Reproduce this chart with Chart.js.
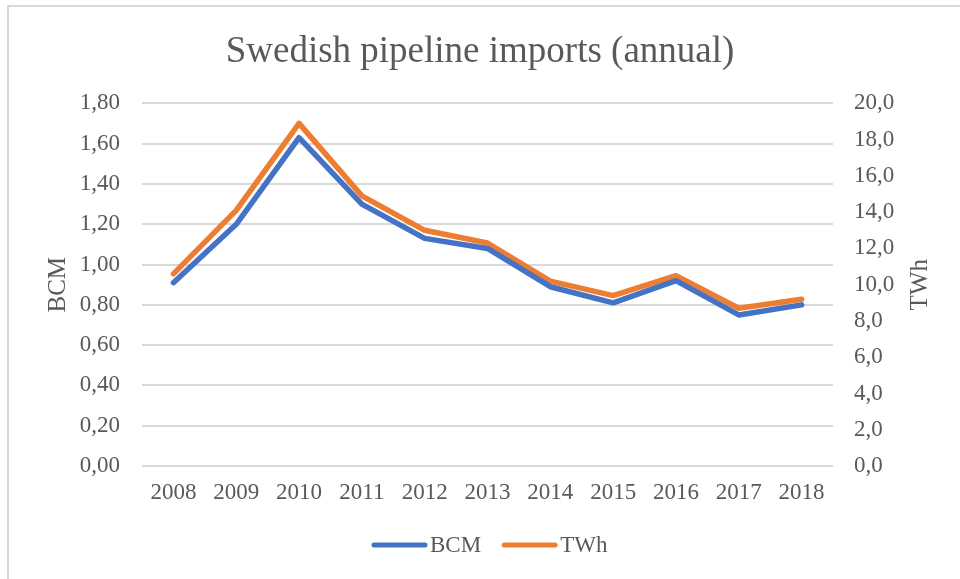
<!DOCTYPE html>
<html>
<head>
<meta charset="utf-8">
<script src="https://cdn.jsdelivr.net/npm/chart.js@4/dist/chart.umd.min.js"></script>
<style>
  html, body { margin: 0; padding: 0; background: #fff; }
  #wrap { width: 960px; height: 579px; position: relative; }
</style>
</head>
<body>
<div id="wrap"><canvas id="imports"></canvas></div>
<script>
// data
const years = ['2008', '2009', '2010', '2011', '2012', '2013', '2014', '2015', '2016', '2017', '2018'];
const bcm = [0.91, 1.20, 1.63, 1.30, 1.13, 1.08, 0.89, 0.81, 0.92, 0.75, 0.80];
const twh = [10.6, 14.1, 18.9, 14.9, 13.0, 12.3, 10.2, 9.4, 10.5, 8.7, 9.2];
const bcmTicks = [0, 0.2, 0.4, 0.6, 0.8, 1.0, 1.2, 1.4, 1.6, 1.8];
const twhTicks = [0, 2, 4, 6, 8, 10, 12, 14, 16, 18, 20];

const grey = '#595959';
const serif = "'Liberation Serif', 'Times New Roman', serif";

// frame, rotated axis titles (both read bottom to top) and the legend
const decor = {
  id: 'decor',
  beforeDraw(chart) {
    const c = chart.ctx;
    c.save();
    c.fillStyle = '#d9d9d9';
    c.fillRect(7, 5, 953, 2);
    c.fillRect(7, 5, 2, 574);
    c.restore();
  },
  afterDraw(chart) {
    const c = chart.ctx;
    const mid = (chart.chartArea.top + chart.chartArea.bottom) / 2;
    c.save();
    c.fillStyle = grey;
    c.font = '25px ' + serif;
    c.textAlign = 'center';
    c.textBaseline = 'middle';
    [[58, 'BCM'], [920, 'TWh']].forEach(([x, t]) => {
      c.save();
      c.translate(x, mid);
      c.rotate(-Math.PI / 2);
      c.fillText(t, 0, 0);
      c.restore();
    });

    // legend: line sample then label
    c.font = '23px ' + serif;
    c.textAlign = 'left';
    let x = 372;
    const y = 545;
    chart.data.datasets.forEach(ds => {
      c.strokeStyle = ds.borderColor;
      c.lineWidth = 5;
      c.lineCap = 'round';
      c.beginPath();
      c.moveTo(x + 2, y);
      c.lineTo(x + 53, y);
      c.stroke();
      c.fillStyle = grey;
      c.fillText(ds.label, x + 58, y + 1);
      x += 58 + c.measureText(ds.label).width + 21;
    });
    c.restore();
  }
};

new Chart(document.getElementById('imports'), {
  type: 'line',
  data: {
    labels: years,
    datasets: [{
      label: 'BCM',
      data: bcm,
      yAxisID: 'y',
      borderColor: '#4472C4',
      backgroundColor: '#4472C4',
      borderWidth: 5.5,
      borderCapStyle: 'round',
      borderJoinStyle: 'round',
      pointRadius: 0,
      tension: 0
    }, {
      label: 'TWh',
      data: twh,
      yAxisID: 'y1',
      borderColor: '#ED7D31',
      backgroundColor: '#ED7D31',
      borderWidth: 5.5,
      borderCapStyle: 'round',
      borderJoinStyle: 'round',
      pointRadius: 0,
      tension: 0
    }]
  },
  options: {
    responsive: true,
    maintainAspectRatio: false,
    animation: false,
    layout: { padding: { left: 0, right: 0, top: 0, bottom: 66 } },
    plugins: {
      title: {
        display: true,
        text: 'Swedish pipeline imports (annual)',
        color: grey,
        font: { family: serif, size: 37, weight: 'normal' },
        padding: { top: 30, bottom: 29 }
      },
      legend: { display: false },
      tooltip: { enabled: false }
    },
    scales: {
      x: {
        offset: true,
        grid: { display: false, drawTicks: false },
        border: { display: false },
        ticks: { color: grey, font: { family: serif, size: 23 }, padding: 13, maxRotation: 0 },
        afterFit(s) { s.height = 47; }
      },
      y: {
        position: 'left',
        min: 0,
        max: 1.8,
        afterBuildTicks(s) { s.ticks = bcmTicks.map(v => ({ value: v })); },
        grid: { color: '#d9d9d9', lineWidth: 2, drawTicks: false },
        border: { display: false },
        ticks: {
          color: grey,
          font: { family: serif, size: 23 },
          padding: 22,
          callback: v => v.toFixed(2).replace('.', ',')
        },
        afterFit(s) { s.width = 142; }
      },
      y1: {
        position: 'right',
        min: 0,
        max: 20,
        afterBuildTicks(s) { s.ticks = twhTicks.map(v => ({ value: v })); },
        grid: { display: false, drawTicks: false },
        border: { display: false },
        ticks: {
          color: grey,
          font: { family: serif, size: 23 },
          padding: 21,
          callback: v => v.toFixed(1).replace('.', ',')
        },
        afterFit(s) { s.width = 127; }
      }
    }
  },
  plugins: [decor]
});
</script>
</body>
</html>
